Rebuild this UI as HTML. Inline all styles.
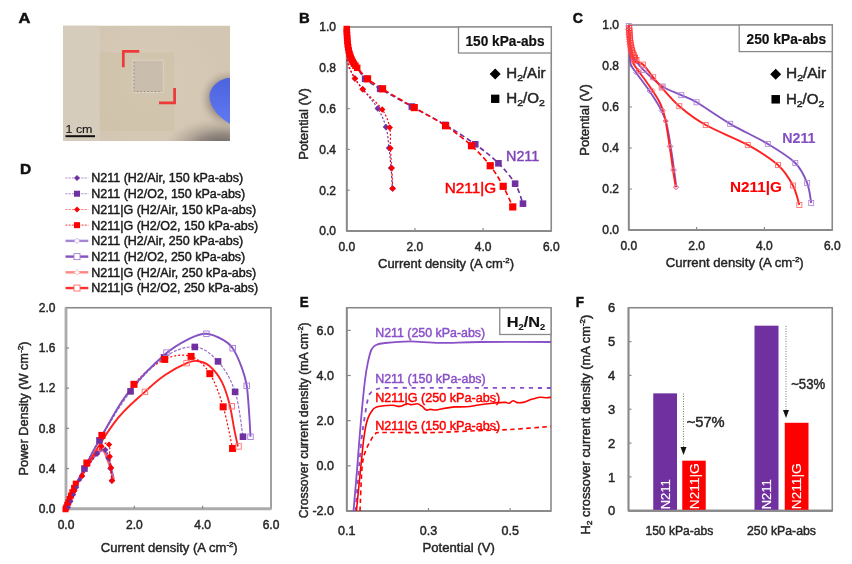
<!DOCTYPE html>
<html><head><meta charset="utf-8"><title>Figure</title>
<style>html,body{margin:0;padding:0;background:#fff;} svg{display:block;}</style>
</head><body>
<svg width="852" height="564" viewBox="0 0 852 564" font-family='"Liberation Sans", Arial, sans-serif'><text x="18.50" y="22.70" font-size="15" fill="#111" stroke="#111" stroke-width="0.5" font-weight="bold" textLength="11.90" lengthAdjust="spacingAndGlyphs">A</text>
<text x="298.90" y="22.50" font-size="15" fill="#111" stroke="#111" stroke-width="0.5" font-weight="bold" textLength="10.70" lengthAdjust="spacingAndGlyphs">B</text>
<text x="572.80" y="22.50" font-size="15" fill="#111" stroke="#111" stroke-width="0.5" font-weight="bold" textLength="10.20" lengthAdjust="spacingAndGlyphs">C</text>
<text x="20.10" y="174.30" font-size="15" fill="#111" stroke="#111" stroke-width="0.5" font-weight="bold" textLength="11.20" lengthAdjust="spacingAndGlyphs">D</text>
<text x="299.80" y="307.10" font-size="15" fill="#111" stroke="#111" stroke-width="0.5" font-weight="bold" textLength="8.90" lengthAdjust="spacingAndGlyphs">E</text>
<text x="575.80" y="307.10" font-size="15" fill="#111" stroke="#111" stroke-width="0.5" font-weight="bold" textLength="8.20" lengthAdjust="spacingAndGlyphs">F</text>
<defs>
<radialGradient id="shB" gradientUnits="userSpaceOnUse" cx="222" cy="147" r="58" gradientTransform="translate(222 147) scale(1 0.5) translate(-222 -147)"><stop offset="0" stop-color="#55504f" stop-opacity="0.95"/><stop offset="0.45" stop-color="#7a716d" stop-opacity="0.7"/><stop offset="1" stop-color="#b0a393" stop-opacity="0"/></radialGradient>
<radialGradient id="shBlue" gradientUnits="userSpaceOnUse" cx="229" cy="99" r="30"><stop offset="0.55" stop-color="#857b76" stop-opacity="0.9"/><stop offset="1" stop-color="#c4b6a4" stop-opacity="0"/></radialGradient>
<radialGradient id="lite" gradientUnits="userSpaceOnUse" cx="150" cy="85" r="70"><stop offset="0" stop-color="#dcd0be" stop-opacity="0.6"/><stop offset="1" stop-color="#ddd0bd" stop-opacity="0"/></radialGradient>
<linearGradient id="blueG" x1="0" y1="0" x2="0" y2="1"><stop offset="0" stop-color="#4d63df"/><stop offset="1" stop-color="#6079f0"/></linearGradient>
<clipPath id="photo"><rect x="63" y="25.5" width="167" height="115.5"/></clipPath>
</defs>
<g clip-path="url(#photo)">
<rect x="63.00" y="25.50" width="167.00" height="115.50" fill="#d3c6b2" />
<rect x="63.00" y="25.50" width="37.00" height="115.50" fill="#d6ccbc" />
<rect x="63.00" y="25.50" width="167.00" height="115.50" fill="url(#lite)" />
<rect x="99.70" y="52.50" width="74.50" height="78.50" fill="#cdbea5" opacity="0.45"/>
<rect x="133.00" y="60.20" width="30.30" height="32.30" fill="#c9bdae" stroke="#ddd2c2" stroke-width="1" />
<path d="M134,62 L134,91.5 L162,91.5" fill="none" stroke="#8f8272" stroke-width="1" stroke-dasharray="1.2 2.4"/>
<ellipse cx="224" cy="100" rx="26" ry="30" fill="url(#shBlue)"/>
<rect x="63" y="100" width="167" height="45" fill="url(#shB)"/>
<path d="M230,78 C221,78 209,86 209.5,97 C210,108 220,118 230,124 Z" fill="url(#blueG)"/>
</g>
<path d="M123.3,67.2 L123.3,51.4 L139.3,51.4" fill="none" stroke="#ec3a3a" stroke-width="2.7"/>
<path d="M174.6,88 L174.6,102.8 L159,102.8" fill="none" stroke="#ec3a3a" stroke-width="2.7"/>
<text x="65.50" y="132.50" font-size="11.5" fill="#111" stroke="#111" stroke-width="0.1" textLength="27.00" lengthAdjust="spacingAndGlyphs">1 cm</text>
<line x1="65.50" y1="136.20" x2="95.00" y2="136.20" stroke="#111" stroke-width="2" />
<rect x="346.75" y="27.00" width="204.50" height="204.00" fill="none" stroke="#8a8a8a" stroke-width="1.6" />
<line x1="346.75" y1="27.00" x2="346.75" y2="231.00" stroke="#8a8a8a" stroke-width="1.8" />
<line x1="346.75" y1="231.00" x2="551.25" y2="231.00" stroke="#8a8a8a" stroke-width="1.8" />
<line x1="346.75" y1="190.20" x2="349.75" y2="190.20" stroke="#8a8a8a" stroke-width="1.2" />
<line x1="346.75" y1="149.40" x2="349.75" y2="149.40" stroke="#8a8a8a" stroke-width="1.2" />
<line x1="346.75" y1="108.60" x2="349.75" y2="108.60" stroke="#8a8a8a" stroke-width="1.2" />
<line x1="346.75" y1="67.80" x2="349.75" y2="67.80" stroke="#8a8a8a" stroke-width="1.2" />
<line x1="414.92" y1="231.00" x2="414.92" y2="228.00" stroke="#8a8a8a" stroke-width="1.2" />
<line x1="483.08" y1="231.00" x2="483.08" y2="228.00" stroke="#8a8a8a" stroke-width="1.2" />
<text x="336.00" y="235.30" font-size="12" fill="#262626" stroke="#262626" stroke-width="0.45" text-anchor="end">0.0</text>
<text x="336.00" y="194.50" font-size="12" fill="#262626" stroke="#262626" stroke-width="0.45" text-anchor="end">0.2</text>
<text x="336.00" y="153.70" font-size="12" fill="#262626" stroke="#262626" stroke-width="0.45" text-anchor="end">0.4</text>
<text x="336.00" y="112.90" font-size="12" fill="#262626" stroke="#262626" stroke-width="0.45" text-anchor="end">0.6</text>
<text x="336.00" y="72.10" font-size="12" fill="#262626" stroke="#262626" stroke-width="0.45" text-anchor="end">0.8</text>
<text x="336.00" y="31.30" font-size="12" fill="#262626" stroke="#262626" stroke-width="0.45" text-anchor="end">1.0</text>
<text x="346.75" y="250.50" font-size="12" fill="#262626" stroke="#262626" stroke-width="0.45" text-anchor="middle">0.0</text>
<text x="414.92" y="250.50" font-size="12" fill="#262626" stroke="#262626" stroke-width="0.45" text-anchor="middle">2.0</text>
<text x="483.08" y="250.50" font-size="12" fill="#262626" stroke="#262626" stroke-width="0.45" text-anchor="middle">4.0</text>
<text x="551.25" y="250.50" font-size="12" fill="#262626" stroke="#262626" stroke-width="0.45" text-anchor="middle">6.0</text>
<text x="307.50" y="124.00" font-size="13" fill="#262626" stroke="#262626" stroke-width="0.45" text-anchor="middle" transform="rotate(-90 307.50 124.00)">Potential (V)</text>
<text x="378.00" y="267.50" font-size="13.5" fill="#262626" stroke="#262626" stroke-width="0.45" textLength="136.00" lengthAdjust="spacingAndGlyphs">Current density (A cm<tspan font-size="8" dy="-5">-2</tspan><tspan dy="5">)</tspan></text>
<path d="M346.75,27.00 C347.42,32.10 349.94,52.16 350.75,57.60 C351.57,63.04 351.30,58.96 351.62,59.64 C351.94,60.32 352.28,61.00 352.66,61.68 C353.04,62.36 353.45,63.04 353.91,63.72 C354.36,64.40 354.85,65.08 355.40,65.76 C355.95,66.44 355.57,65.62 357.19,67.80 C358.82,69.98 361.33,75.31 365.15,78.82 C368.98,82.32 372.37,84.19 380.15,88.81 C387.93,93.44 401.00,100.54 411.85,106.56 C422.70,112.58 434.69,118.63 445.25,124.92 C455.82,131.21 466.38,137.91 475.24,144.30 C484.11,150.69 491.77,156.71 498.42,163.27 C505.07,169.83 511.03,176.94 515.12,183.67 C519.21,190.40 521.65,200.33 522.96,203.66" fill="none" stroke="#7030a0" stroke-width="1.6" stroke-dasharray="5 3" />
<path d="M346.75,27.00 C347.42,32.10 349.94,52.16 350.75,57.60 C351.57,63.04 351.30,58.96 351.62,59.64 C351.94,60.32 352.28,61.00 352.66,61.68 C353.04,62.36 353.45,63.04 353.91,63.72 C354.36,64.40 354.85,65.08 355.40,65.76 C355.95,66.44 355.17,65.62 357.19,67.80 C359.22,69.98 363.32,75.31 367.54,78.82 C371.76,82.32 374.76,84.02 382.54,88.81 C390.32,93.61 403.73,101.43 414.24,107.58 C424.74,113.73 436.05,119.38 445.59,125.74 C455.14,132.09 464.05,139.06 471.50,145.73 C478.94,152.39 484.96,158.95 490.24,165.72 C495.52,172.49 499.44,179.46 503.19,186.32 C506.94,193.19 511.15,203.49 512.74,206.93" fill="none" stroke="#ff0000" stroke-width="1.6" stroke-dasharray="5 3" />
<path d="M346.75,59.64 C347.20,61.00 348.11,64.64 349.48,67.80 C350.84,70.96 352.71,75.04 354.93,78.61 C357.15,82.18 358.96,84.26 362.77,89.22 C366.58,94.18 373.90,102.11 377.77,108.40 C381.63,114.69 384.07,120.36 385.95,126.96 C387.82,133.56 388.16,141.14 389.01,147.97 C389.87,154.81 390.49,161.20 391.06,167.96 C391.63,174.73 392.19,185.13 392.42,188.57" fill="none" stroke="#7030a0" stroke-width="1.2" stroke-dasharray="2 2" />
<path d="M346.75,59.64 C347.20,61.00 348.11,64.64 349.48,67.80 C350.84,70.96 352.71,75.04 354.93,78.61 C357.15,82.18 358.22,84.05 362.77,89.22 C367.31,94.39 377.71,103.23 382.20,109.62 C386.68,116.01 388.33,121.15 389.69,127.57 C391.06,134.00 390.04,141.44 390.38,148.18 C390.72,154.91 391.34,161.23 391.74,167.96 C392.14,174.70 392.59,185.13 392.76,188.57" fill="none" stroke="#ff0000" stroke-width="1.2" stroke-dasharray="2 2" />
<path d="M354.93,75.36 L358.18,78.61 L354.93,81.86 L351.68,78.61 Z" fill="#7030a0"/>
<path d="M362.77,85.97 L366.02,89.22 L362.77,92.47 L359.52,89.22 Z" fill="#7030a0"/>
<path d="M377.77,105.15 L381.02,108.40 L377.77,111.65 L374.52,108.40 Z" fill="#7030a0"/>
<path d="M385.95,123.71 L389.20,126.96 L385.95,130.21 L382.70,126.96 Z" fill="#7030a0"/>
<path d="M389.01,144.72 L392.26,147.97 L389.01,151.22 L385.76,147.97 Z" fill="#7030a0"/>
<path d="M391.06,164.71 L394.31,167.96 L391.06,171.21 L387.81,167.96 Z" fill="#7030a0"/>
<path d="M392.42,185.32 L395.67,188.57 L392.42,191.82 L389.17,188.57 Z" fill="#7030a0"/>
<path d="M354.93,75.36 L358.18,78.61 L354.93,81.86 L351.68,78.61 Z" fill="#ff0000"/>
<path d="M362.77,85.97 L366.02,89.22 L362.77,92.47 L359.52,89.22 Z" fill="#ff0000"/>
<path d="M382.20,106.37 L385.45,109.62 L382.20,112.87 L378.95,109.62 Z" fill="#ff0000"/>
<path d="M389.69,124.32 L392.94,127.57 L389.69,130.82 L386.44,127.57 Z" fill="#ff0000"/>
<path d="M390.38,144.93 L393.63,148.18 L390.38,151.43 L387.13,148.18 Z" fill="#ff0000"/>
<path d="M391.74,164.71 L394.99,167.96 L391.74,171.21 L388.49,167.96 Z" fill="#ff0000"/>
<path d="M392.76,185.32 L396.01,188.57 L392.76,191.82 L389.51,188.57 Z" fill="#ff0000"/>
<rect x="361.85" y="75.52" width="6.60" height="6.60" fill="#7030a0" />
<rect x="376.85" y="85.51" width="6.60" height="6.60" fill="#7030a0" />
<rect x="408.55" y="103.26" width="6.60" height="6.60" fill="#7030a0" />
<rect x="441.95" y="121.62" width="6.60" height="6.60" fill="#7030a0" />
<rect x="471.94" y="141.00" width="6.60" height="6.60" fill="#7030a0" />
<rect x="495.12" y="159.97" width="6.60" height="6.60" fill="#7030a0" />
<rect x="511.82" y="180.37" width="6.60" height="6.60" fill="#7030a0" />
<rect x="519.66" y="200.36" width="6.60" height="6.60" fill="#7030a0" />
<rect x="363.94" y="75.22" width="7.20" height="7.20" fill="#ff0000" />
<rect x="378.94" y="85.21" width="7.20" height="7.20" fill="#ff0000" />
<rect x="410.63" y="103.98" width="7.20" height="7.20" fill="#ff0000" />
<rect x="441.99" y="122.14" width="7.20" height="7.20" fill="#ff0000" />
<rect x="467.89" y="142.13" width="7.20" height="7.20" fill="#ff0000" />
<rect x="486.64" y="162.12" width="7.20" height="7.20" fill="#ff0000" />
<rect x="499.59" y="182.72" width="7.20" height="7.20" fill="#ff0000" />
<rect x="509.14" y="203.33" width="7.20" height="7.20" fill="#ff0000" />
<rect x="343.50" y="25.79" width="6.50" height="6.50" fill="#ff0000" />
<rect x="343.61" y="28.85" width="6.50" height="6.50" fill="#ff0000" />
<rect x="343.75" y="31.91" width="6.50" height="6.50" fill="#ff0000" />
<rect x="343.93" y="34.97" width="6.50" height="6.50" fill="#ff0000" />
<rect x="344.17" y="38.03" width="6.50" height="6.50" fill="#ff0000" />
<rect x="344.49" y="41.09" width="6.50" height="6.50" fill="#ff0000" />
<rect x="344.91" y="44.15" width="6.50" height="6.50" fill="#ff0000" />
<rect x="345.46" y="47.21" width="6.50" height="6.50" fill="#ff0000" />
<rect x="346.18" y="50.27" width="6.50" height="6.50" fill="#ff0000" />
<rect x="346.78" y="52.31" width="6.50" height="6.50" fill="#ff0000" />
<rect x="347.50" y="54.35" width="6.50" height="6.50" fill="#ff0000" />
<rect x="348.37" y="56.39" width="6.50" height="6.50" fill="#ff0000" />
<rect x="349.41" y="58.43" width="6.50" height="6.50" fill="#ff0000" />
<rect x="350.66" y="60.47" width="6.50" height="6.50" fill="#ff0000" />
<rect x="352.15" y="62.51" width="6.50" height="6.50" fill="#ff0000" />
<rect x="353.94" y="64.55" width="6.50" height="6.50" fill="#ff0000" />
<rect x="458.50" y="27.00" width="92.75" height="26.00" fill="#fff" stroke="#8a8a8a" stroke-width="1.3" />
<text x="465.50" y="46.10" font-size="15.3" fill="#111" stroke="#111" stroke-width="0.2" font-weight="bold" textLength="79.00" lengthAdjust="spacingAndGlyphs">150 kPa-abs</text>
<path d="M495.20,68.50 L500.70,74.00 L495.20,79.50 L489.70,74.00 Z" fill="#000"/>
<rect x="491.05" y="94.65" width="8.30" height="8.30" fill="#000" />
<text x="506.30" y="78.10" font-size="13.8" fill="#262626" stroke="#262626" stroke-width="0.45" textLength="39.20" lengthAdjust="spacingAndGlyphs">H<tspan font-size="9.5" dy="3">2</tspan><tspan dy="-3">/Air</tspan></text>
<text x="506.30" y="103.20" font-size="13.8" fill="#262626" stroke="#262626" stroke-width="0.45" textLength="38.50" lengthAdjust="spacingAndGlyphs">H<tspan font-size="9.5" dy="3">2</tspan><tspan dy="-3">/O</tspan><tspan font-size="9.5" dy="3">2</tspan></text>
<text x="506.00" y="161.40" font-size="14.2" fill="#7f45b8" stroke="#7f45b8" stroke-width="0.45" textLength="33.30" lengthAdjust="spacingAndGlyphs">N211</text>
<text x="444.70" y="192.60" font-size="14.2" fill="#ff0000" stroke="#ff0000" stroke-width="0.45" textLength="51.40" lengthAdjust="spacingAndGlyphs">N211|G</text>
<rect x="628.75" y="25.00" width="203.50" height="205.00" fill="none" stroke="#8a8a8a" stroke-width="1.6" />
<line x1="628.75" y1="25.00" x2="628.75" y2="230.00" stroke="#8a8a8a" stroke-width="1.8" />
<line x1="628.75" y1="230.00" x2="832.25" y2="230.00" stroke="#8a8a8a" stroke-width="1.8" />
<line x1="628.75" y1="189.00" x2="631.75" y2="189.00" stroke="#8a8a8a" stroke-width="1.2" />
<line x1="628.75" y1="148.00" x2="631.75" y2="148.00" stroke="#8a8a8a" stroke-width="1.2" />
<line x1="628.75" y1="107.00" x2="631.75" y2="107.00" stroke="#8a8a8a" stroke-width="1.2" />
<line x1="628.75" y1="66.00" x2="631.75" y2="66.00" stroke="#8a8a8a" stroke-width="1.2" />
<line x1="696.58" y1="230.00" x2="696.58" y2="227.00" stroke="#8a8a8a" stroke-width="1.2" />
<line x1="764.42" y1="230.00" x2="764.42" y2="227.00" stroke="#8a8a8a" stroke-width="1.2" />
<text x="619.00" y="234.30" font-size="12" fill="#262626" stroke="#262626" stroke-width="0.45" text-anchor="end">0.0</text>
<text x="619.00" y="193.30" font-size="12" fill="#262626" stroke="#262626" stroke-width="0.45" text-anchor="end">0.2</text>
<text x="619.00" y="152.30" font-size="12" fill="#262626" stroke="#262626" stroke-width="0.45" text-anchor="end">0.4</text>
<text x="619.00" y="111.30" font-size="12" fill="#262626" stroke="#262626" stroke-width="0.45" text-anchor="end">0.6</text>
<text x="619.00" y="70.30" font-size="12" fill="#262626" stroke="#262626" stroke-width="0.45" text-anchor="end">0.8</text>
<text x="619.00" y="29.30" font-size="12" fill="#262626" stroke="#262626" stroke-width="0.45" text-anchor="end">1.0</text>
<text x="628.75" y="250.00" font-size="12" fill="#262626" stroke="#262626" stroke-width="0.45" text-anchor="middle">0.0</text>
<text x="696.58" y="250.00" font-size="12" fill="#262626" stroke="#262626" stroke-width="0.45" text-anchor="middle">2.0</text>
<text x="764.42" y="250.00" font-size="12" fill="#262626" stroke="#262626" stroke-width="0.45" text-anchor="middle">4.0</text>
<text x="832.25" y="250.00" font-size="12" fill="#262626" stroke="#262626" stroke-width="0.45" text-anchor="middle">6.0</text>
<text x="588.50" y="120.00" font-size="13" fill="#262626" stroke="#262626" stroke-width="0.45" text-anchor="middle" transform="rotate(-90 588.50 120.00)">Potential (V)</text>
<text x="665.70" y="267.00" font-size="13.5" fill="#262626" stroke="#262626" stroke-width="0.45" textLength="138.00" lengthAdjust="spacingAndGlyphs">Current density (A cm<tspan font-size="8" dy="-5">-2</tspan><tspan dy="5">)</tspan></text>
<path d="M629.30,30.00 C629.38,33.33 629.58,44.33 629.80,50.00 C630.02,55.67 629.57,60.25 630.60,64.00 C631.63,67.75 633.93,69.50 636.00,72.50 C638.07,75.50 640.75,78.92 643.00,82.00 C645.25,85.08 647.33,87.83 649.50,91.00 C651.67,94.17 654.00,97.75 656.00,101.00 C658.00,104.25 659.87,107.17 661.50,110.50 C663.13,113.83 664.62,117.08 665.80,121.00 C666.98,124.92 667.80,129.77 668.60,134.00 C669.40,138.23 669.97,142.40 670.60,146.40 C671.23,150.40 671.83,154.07 672.40,158.00 C672.97,161.93 673.50,166.33 674.00,170.00 C674.50,173.67 675.02,177.13 675.40,180.00 C675.78,182.87 676.15,186.00 676.30,187.20" fill="none" stroke="#8552c2" stroke-width="1.9" />
<path d="M629.30,30.00 C629.42,33.33 629.47,44.67 630.00,50.00 C630.53,55.33 631.08,58.50 632.50,62.00 C633.92,65.50 636.33,67.92 638.50,71.00 C640.67,74.08 643.17,77.25 645.50,80.50 C647.83,83.75 650.25,87.08 652.50,90.50 C654.75,93.92 657.25,97.67 659.00,101.00 C660.75,104.33 661.90,107.17 663.00,110.50 C664.10,113.83 664.80,117.08 665.60,121.00 C666.40,124.92 667.13,129.77 667.80,134.00 C668.47,138.23 669.00,142.40 669.60,146.40 C670.20,150.40 670.83,154.07 671.40,158.00 C671.97,161.93 672.47,166.33 673.00,170.00 C673.53,173.67 674.13,177.13 674.60,180.00 C675.07,182.87 675.60,186.00 675.80,187.20" fill="none" stroke="#ff2020" stroke-width="1.9" />
<path d="M628.75,25.00 C628.86,26.71 629.15,31.83 629.43,35.25 C629.71,38.67 629.99,42.43 630.45,45.50 C630.90,48.57 631.55,51.62 632.14,53.70 C632.74,55.78 632.09,55.27 634.01,58.00 C635.93,60.74 638.90,65.35 643.67,70.10 C648.45,74.85 656.39,82.33 662.67,86.50 C668.94,90.67 675.67,92.48 681.32,95.11 C686.97,97.74 688.44,97.50 696.58,102.28 C704.72,107.07 718.29,116.87 730.16,123.81 C742.03,130.75 756.95,137.37 767.81,143.90 C778.66,150.43 788.72,156.44 795.28,162.97 C801.84,169.49 804.49,176.39 807.15,183.06 C809.81,189.72 810.54,199.63 811.22,202.94" fill="none" stroke="#8552c2" stroke-width="1.9" />
<path d="M628.75,25.00 C628.86,26.71 629.15,31.83 629.43,35.25 C629.71,38.67 629.99,42.43 630.45,45.50 C630.90,48.57 631.48,51.24 632.14,53.70 C632.80,56.16 632.61,58.45 634.41,60.26 C636.22,62.07 639.87,61.73 643.00,64.56 C646.12,67.40 650.06,73.45 653.17,77.28 C656.28,81.10 657.30,82.71 661.65,87.53 C666.00,92.34 671.94,99.93 679.29,106.18 C686.63,112.43 694.32,118.58 705.74,125.04 C717.16,131.50 735.76,138.26 747.80,144.93 C759.84,151.59 770.47,158.25 777.98,165.01 C785.50,171.78 789.35,178.85 792.91,185.51 C796.47,192.18 798.28,201.74 799.35,204.99" fill="none" stroke="#ff2020" stroke-width="1.9" />
<rect x="631.51" y="55.50" width="5.00" height="5.00" fill="none" stroke="#b08ad8" stroke-width="0.9" />
<rect x="641.17" y="67.60" width="5.00" height="5.00" fill="none" stroke="#b08ad8" stroke-width="0.9" />
<rect x="660.17" y="84.00" width="5.00" height="5.00" fill="none" stroke="#b08ad8" stroke-width="0.9" />
<rect x="678.82" y="92.61" width="5.00" height="5.00" fill="none" stroke="#b08ad8" stroke-width="0.9" />
<rect x="694.08" y="99.78" width="5.00" height="5.00" fill="none" stroke="#b08ad8" stroke-width="0.9" />
<rect x="727.66" y="121.31" width="5.00" height="5.00" fill="none" stroke="#b08ad8" stroke-width="0.9" />
<rect x="765.31" y="141.40" width="5.00" height="5.00" fill="none" stroke="#b08ad8" stroke-width="0.9" />
<rect x="792.78" y="160.47" width="5.00" height="5.00" fill="none" stroke="#b08ad8" stroke-width="0.9" />
<rect x="804.65" y="180.56" width="5.00" height="5.00" fill="none" stroke="#b08ad8" stroke-width="0.9" />
<rect x="808.72" y="200.44" width="5.00" height="5.00" fill="none" stroke="#b08ad8" stroke-width="0.9" />
<rect x="631.91" y="57.76" width="5.00" height="5.00" fill="none" stroke="#ff7070" stroke-width="0.9" />
<rect x="640.50" y="62.06" width="5.00" height="5.00" fill="none" stroke="#ff7070" stroke-width="0.9" />
<rect x="650.67" y="74.78" width="5.00" height="5.00" fill="none" stroke="#ff7070" stroke-width="0.9" />
<rect x="659.15" y="85.03" width="5.00" height="5.00" fill="none" stroke="#ff7070" stroke-width="0.9" />
<rect x="676.79" y="103.68" width="5.00" height="5.00" fill="none" stroke="#ff7070" stroke-width="0.9" />
<rect x="703.24" y="122.54" width="5.00" height="5.00" fill="none" stroke="#ff7070" stroke-width="0.9" />
<rect x="745.30" y="142.43" width="5.00" height="5.00" fill="none" stroke="#ff7070" stroke-width="0.9" />
<rect x="775.48" y="162.51" width="5.00" height="5.00" fill="none" stroke="#ff7070" stroke-width="0.9" />
<rect x="790.41" y="183.01" width="5.00" height="5.00" fill="none" stroke="#ff7070" stroke-width="0.9" />
<rect x="796.85" y="202.49" width="5.00" height="5.00" fill="none" stroke="#ff7070" stroke-width="0.9" />
<path d="M636.00,70.00 L638.50,72.50 L636.00,75.00 L633.50,72.50 Z" fill="none" stroke="#b08ad8" stroke-width="0.9"/>
<path d="M649.50,88.50 L652.00,91.00 L649.50,93.50 L647.00,91.00 Z" fill="none" stroke="#b08ad8" stroke-width="0.9"/>
<path d="M661.50,108.00 L664.00,110.50 L661.50,113.00 L659.00,110.50 Z" fill="none" stroke="#b08ad8" stroke-width="0.9"/>
<path d="M665.80,118.50 L668.30,121.00 L665.80,123.50 L663.30,121.00 Z" fill="none" stroke="#b08ad8" stroke-width="0.9"/>
<path d="M670.60,143.90 L673.10,146.40 L670.60,148.90 L668.10,146.40 Z" fill="none" stroke="#b08ad8" stroke-width="0.9"/>
<path d="M674.00,167.50 L676.50,170.00 L674.00,172.50 L671.50,170.00 Z" fill="none" stroke="#b08ad8" stroke-width="0.9"/>
<path d="M676.30,184.70 L678.80,187.20 L676.30,189.70 L673.80,187.20 Z" fill="none" stroke="#b08ad8" stroke-width="0.9"/>
<path d="M638.50,68.50 L641.00,71.00 L638.50,73.50 L636.00,71.00 Z" fill="none" stroke="#ff7070" stroke-width="0.9"/>
<path d="M652.50,88.00 L655.00,90.50 L652.50,93.00 L650.00,90.50 Z" fill="none" stroke="#ff7070" stroke-width="0.9"/>
<path d="M663.00,108.00 L665.50,110.50 L663.00,113.00 L660.50,110.50 Z" fill="none" stroke="#ff7070" stroke-width="0.9"/>
<path d="M665.60,118.50 L668.10,121.00 L665.60,123.50 L663.10,121.00 Z" fill="none" stroke="#ff7070" stroke-width="0.9"/>
<path d="M669.60,143.90 L672.10,146.40 L669.60,148.90 L667.10,146.40 Z" fill="none" stroke="#ff7070" stroke-width="0.9"/>
<path d="M673.00,167.50 L675.50,170.00 L673.00,172.50 L670.50,170.00 Z" fill="none" stroke="#ff7070" stroke-width="0.9"/>
<path d="M675.80,184.70 L678.30,187.20 L675.80,189.70 L673.30,187.20 Z" fill="none" stroke="#ff7070" stroke-width="0.9"/>
<rect x="626.25" y="23.50" width="5.00" height="5.00" fill="none" stroke="#b08ad8" stroke-width="0.9" />
<rect x="626.79" y="25.57" width="5.00" height="5.00" fill="none" stroke="#ff3c3c" stroke-width="0.9" />
<path d="M628.49,26.82 L631.24,29.57 L628.49,32.32 L625.74,29.57 Z" fill="none" stroke="#ff4848" stroke-width="0.8"/>
<rect x="626.90" y="28.03" width="5.00" height="5.00" fill="none" stroke="#ff3c3c" stroke-width="0.9" />
<path d="M628.60,29.28 L631.35,32.03 L628.60,34.78 L625.85,32.03 Z" fill="none" stroke="#ff4848" stroke-width="0.8"/>
<rect x="627.03" y="30.50" width="5.00" height="5.00" fill="none" stroke="#ff3c3c" stroke-width="0.9" />
<path d="M628.73,31.75 L631.48,34.50 L628.73,37.25 L625.98,34.50 Z" fill="none" stroke="#ff4848" stroke-width="0.8"/>
<rect x="627.20" y="32.96" width="5.00" height="5.00" fill="none" stroke="#ff3c3c" stroke-width="0.9" />
<path d="M628.90,34.21 L631.65,36.96 L628.90,39.71 L626.15,36.96 Z" fill="none" stroke="#ff4848" stroke-width="0.8"/>
<rect x="627.41" y="35.42" width="5.00" height="5.00" fill="none" stroke="#ff3c3c" stroke-width="0.9" />
<path d="M629.11,36.67 L631.86,39.42 L629.11,42.17 L626.36,39.42 Z" fill="none" stroke="#ff4848" stroke-width="0.8"/>
<rect x="627.67" y="37.88" width="5.00" height="5.00" fill="none" stroke="#ff3c3c" stroke-width="0.9" />
<path d="M629.37,39.12 L632.12,41.88 L629.37,44.62 L626.62,41.88 Z" fill="none" stroke="#ff4848" stroke-width="0.8"/>
<rect x="627.99" y="40.33" width="5.00" height="5.00" fill="none" stroke="#ff3c3c" stroke-width="0.9" />
<path d="M629.69,41.58 L632.44,44.33 L629.69,47.08 L626.94,44.33 Z" fill="none" stroke="#ff4848" stroke-width="0.8"/>
<rect x="628.40" y="42.79" width="5.00" height="5.00" fill="none" stroke="#ff3c3c" stroke-width="0.9" />
<path d="M630.10,44.04 L632.85,46.79 L630.10,49.54 L627.35,46.79 Z" fill="none" stroke="#ff4848" stroke-width="0.8"/>
<rect x="628.90" y="45.25" width="5.00" height="5.00" fill="none" stroke="#ff3c3c" stroke-width="0.9" />
<path d="M630.60,46.50 L633.35,49.25 L630.60,52.00 L627.85,49.25 Z" fill="none" stroke="#ff4848" stroke-width="0.8"/>
<rect x="629.52" y="47.72" width="5.00" height="5.00" fill="none" stroke="#ff3c3c" stroke-width="0.9" />
<path d="M631.22,48.97 L633.97,51.72 L631.22,54.47 L628.47,51.72 Z" fill="none" stroke="#ff4848" stroke-width="0.8"/>
<rect x="630.29" y="50.18" width="5.00" height="5.00" fill="none" stroke="#ff3c3c" stroke-width="0.9" />
<path d="M631.99,51.43 L634.74,54.18 L631.99,56.93 L629.24,54.18 Z" fill="none" stroke="#ff4848" stroke-width="0.8"/>
<rect x="631.26" y="52.63" width="5.00" height="5.00" fill="none" stroke="#ff3c3c" stroke-width="0.9" />
<path d="M632.96,53.88 L635.71,56.63 L632.96,59.38 L630.21,56.63 Z" fill="none" stroke="#ff4848" stroke-width="0.8"/>
<rect x="632.45" y="55.09" width="5.00" height="5.00" fill="none" stroke="#ff3c3c" stroke-width="0.9" />
<path d="M634.15,56.34 L636.90,59.09 L634.15,61.84 L631.40,59.09 Z" fill="none" stroke="#ff4848" stroke-width="0.8"/>
<rect x="633.94" y="57.56" width="5.00" height="5.00" fill="none" stroke="#ff3c3c" stroke-width="0.9" />
<path d="M635.64,58.81 L638.39,61.56 L635.64,64.31 L632.89,61.56 Z" fill="none" stroke="#ff4848" stroke-width="0.8"/>
<rect x="739.20" y="25.00" width="93.05" height="26.60" fill="#fff" stroke="#8a8a8a" stroke-width="1.3" />
<text x="746.50" y="44.30" font-size="15.3" fill="#111" stroke="#111" stroke-width="0.2" font-weight="bold" textLength="79.70" lengthAdjust="spacingAndGlyphs">250 kPa-abs</text>
<path d="M775.70,68.70 L781.20,74.20 L775.70,79.70 L770.20,74.20 Z" fill="#000"/>
<rect x="771.45" y="95.05" width="8.50" height="8.50" fill="#000" />
<text x="786.00" y="78.20" font-size="13.8" fill="#262626" stroke="#262626" stroke-width="0.45" textLength="40.20" lengthAdjust="spacingAndGlyphs">H<tspan font-size="9.5" dy="3">2</tspan><tspan dy="-3">/Air</tspan></text>
<text x="786.00" y="103.60" font-size="13.8" fill="#262626" stroke="#262626" stroke-width="0.45" textLength="38.30" lengthAdjust="spacingAndGlyphs">H<tspan font-size="9.5" dy="3">2</tspan><tspan dy="-3">/O</tspan><tspan font-size="9.5" dy="3">2</tspan></text>
<text x="782.20" y="143.00" font-size="14.4" fill="#8550c0" stroke="#8550c0" stroke-width="0.1" font-weight="bold" textLength="33.30" lengthAdjust="spacingAndGlyphs">N211</text>
<text x="730.00" y="191.50" font-size="14.4" fill="#ff0000" stroke="#ff0000" stroke-width="0.1" font-weight="bold" textLength="51.80" lengthAdjust="spacingAndGlyphs">N211|G</text>
<line x1="65.50" y1="178.00" x2="88.30" y2="178.00" stroke="#a585d5" stroke-width="1.1" stroke-dasharray="2 1.2"/>
<path d="M77.00,175.00 L80.00,178.00 L77.00,181.00 L74.00,178.00 Z" fill="#7030a0"/>
<text x="91.25" y="182.40" font-size="12.5" fill="#1a1a1a" stroke="#1a1a1a" stroke-width="0.45">N211 (H2/Air, 150 kPa-abs)</text>
<line x1="65.50" y1="193.72" x2="88.30" y2="193.72" stroke="#a585d5" stroke-width="1.1" stroke-dasharray="2 1.2"/>
<rect x="74.00" y="190.72" width="6.00" height="6.00" fill="#7030a0" />
<text x="91.25" y="198.12" font-size="12.5" fill="#1a1a1a" stroke="#1a1a1a" stroke-width="0.45">N211 (H2/O2, 150 kPa-abs)</text>
<line x1="65.50" y1="209.44" x2="88.30" y2="209.44" stroke="#ff7070" stroke-width="1.1" stroke-dasharray="2 1.2"/>
<path d="M77.00,206.44 L80.00,209.44 L77.00,212.44 L74.00,209.44 Z" fill="#ff0000"/>
<text x="91.25" y="213.84" font-size="12.5" fill="#1a1a1a" stroke="#1a1a1a" stroke-width="0.45">N211|G (H2/Air, 150 kPa-abs)</text>
<line x1="65.50" y1="225.16" x2="88.30" y2="225.16" stroke="#ff6060" stroke-width="1.1" stroke-dasharray="2 1.2"/>
<rect x="74.00" y="222.16" width="6.00" height="6.00" fill="#ff0000" />
<text x="91.25" y="229.56" font-size="12.5" fill="#1a1a1a" stroke="#1a1a1a" stroke-width="0.45">N211|G (H2/O2, 150 kPa-abs)</text>
<line x1="65.50" y1="240.88" x2="88.30" y2="240.88" stroke="#a585d5" stroke-width="2.4" />
<path d="M77.00,238.13 L79.75,240.88 L77.00,243.63 L74.25,240.88 Z" fill="#fff" stroke="#c0a8e4" stroke-width="0.8"/>
<text x="91.25" y="245.28" font-size="12.5" fill="#1a1a1a" stroke="#1a1a1a" stroke-width="0.45">N211 (H2/Air, 250 kPa-abs)</text>
<line x1="65.50" y1="256.60" x2="88.30" y2="256.60" stroke="#8552c2" stroke-width="2.4" />
<rect x="74.00" y="253.60" width="6.00" height="6.00" fill="#fff" stroke="#9f7fd4" stroke-width="0.9" />
<text x="91.25" y="261.00" font-size="12.5" fill="#1a1a1a" stroke="#1a1a1a" stroke-width="0.45">N211 (H2/O2, 250 kPa-abs)</text>
<line x1="65.50" y1="272.32" x2="88.30" y2="272.32" stroke="#ff8585" stroke-width="2.4" />
<path d="M77.00,269.57 L79.75,272.32 L77.00,275.07 L74.25,272.32 Z" fill="#fff" stroke="#ffb0b0" stroke-width="0.8"/>
<text x="91.25" y="276.72" font-size="12.5" fill="#1a1a1a" stroke="#1a1a1a" stroke-width="0.45">N211|G (H2/Air, 250 kPa-abs)</text>
<line x1="65.50" y1="288.04" x2="88.30" y2="288.04" stroke="#ff3030" stroke-width="2.4" />
<rect x="74.00" y="285.04" width="6.00" height="6.00" fill="#fff" stroke="#ff6a6a" stroke-width="0.9" />
<text x="91.25" y="292.44" font-size="12.5" fill="#1a1a1a" stroke="#1a1a1a" stroke-width="0.45">N211|G (H2/O2, 250 kPa-abs)</text>
<rect x="66.00" y="307.75" width="205.00" height="201.00" fill="none" stroke="#8a8a8a" stroke-width="1.6" />
<line x1="66.00" y1="307.75" x2="66.00" y2="508.75" stroke="#ababab" stroke-width="2.8" />
<line x1="66.00" y1="508.75" x2="271.00" y2="508.75" stroke="#ababab" stroke-width="2.8" />
<line x1="66.00" y1="468.55" x2="69.00" y2="468.55" stroke="#8a8a8a" stroke-width="1.2" />
<line x1="66.00" y1="428.35" x2="69.00" y2="428.35" stroke="#8a8a8a" stroke-width="1.2" />
<line x1="66.00" y1="388.15" x2="69.00" y2="388.15" stroke="#8a8a8a" stroke-width="1.2" />
<line x1="66.00" y1="347.95" x2="69.00" y2="347.95" stroke="#8a8a8a" stroke-width="1.2" />
<line x1="134.33" y1="508.75" x2="134.33" y2="505.75" stroke="#8a8a8a" stroke-width="1.2" />
<line x1="202.67" y1="508.75" x2="202.67" y2="505.75" stroke="#8a8a8a" stroke-width="1.2" />
<text x="55.50" y="513.05" font-size="12" fill="#262626" stroke="#262626" stroke-width="0.45" text-anchor="end">0.0</text>
<text x="55.50" y="472.85" font-size="12" fill="#262626" stroke="#262626" stroke-width="0.45" text-anchor="end">0.4</text>
<text x="55.50" y="432.65" font-size="12" fill="#262626" stroke="#262626" stroke-width="0.45" text-anchor="end">0.8</text>
<text x="55.50" y="392.45" font-size="12" fill="#262626" stroke="#262626" stroke-width="0.45" text-anchor="end">1.2</text>
<text x="55.50" y="352.25" font-size="12" fill="#262626" stroke="#262626" stroke-width="0.45" text-anchor="end">1.6</text>
<text x="55.50" y="312.05" font-size="12" fill="#262626" stroke="#262626" stroke-width="0.45" text-anchor="end">2.0</text>
<text x="66.00" y="529.00" font-size="12" fill="#262626" stroke="#262626" stroke-width="0.45" text-anchor="middle">0.0</text>
<text x="134.33" y="529.00" font-size="12" fill="#262626" stroke="#262626" stroke-width="0.45" text-anchor="middle">2.0</text>
<text x="202.67" y="529.00" font-size="12" fill="#262626" stroke="#262626" stroke-width="0.45" text-anchor="middle">4.0</text>
<text x="271.00" y="529.00" font-size="12" fill="#262626" stroke="#262626" stroke-width="0.45" text-anchor="middle">6.0</text>
<text x="27.60" y="408.40" font-size="12.2" fill="#262626" stroke="#262626" stroke-width="0.45" text-anchor="middle" textLength="134.00" lengthAdjust="spacingAndGlyphs" transform="rotate(-90 27.60 408.40)">Power Density (W cm<tspan font-size="8" dy="-5">-2</tspan><tspan dy="5">)</tspan></text>
<text x="100.70" y="551.50" font-size="13.5" fill="#262626" stroke="#262626" stroke-width="0.45" textLength="137.00" lengthAdjust="spacingAndGlyphs">Current density (A cm<tspan font-size="8" dy="-5">-2</tspan><tspan dy="5">)</tspan></text>
<path d="M66.00,508.75 C66.31,508.01 66.65,507.06 67.86,504.31 C69.08,501.56 71.22,496.59 73.30,492.24 C75.39,487.90 78.09,482.46 80.36,478.27 C82.62,474.07 84.72,470.45 86.90,467.06 C89.09,463.67 91.44,460.42 93.45,457.94 C95.47,455.46 97.35,453.44 98.99,452.18 C100.64,450.92 102.13,450.16 103.32,450.38 C104.52,450.59 105.34,452.15 106.14,453.45 C106.95,454.75 107.52,456.53 108.16,458.18 C108.80,459.82 109.40,461.43 109.97,463.32 C110.54,465.21 111.08,467.55 111.58,469.51 C112.09,471.46 112.61,473.40 112.99,475.04 C113.38,476.67 113.75,478.62 113.90,479.33" fill="none" stroke="#9966cc" stroke-width="1.8" />
<path d="M66.00,508.75 C66.63,507.23 68.14,503.38 69.78,499.64 C71.41,495.91 73.64,490.86 75.82,486.34 C78.00,481.83 80.52,476.80 82.87,472.55 C85.22,468.31 87.66,464.23 89.93,460.86 C92.19,457.49 94.71,454.22 96.47,452.35 C98.24,450.47 99.39,449.87 100.50,449.59 C101.61,449.31 102.32,449.86 103.12,450.69 C103.93,451.52 104.67,453.11 105.34,454.56 C106.01,456.01 106.55,457.75 107.15,459.39 C107.76,461.02 108.39,462.53 108.96,464.36 C109.54,466.19 110.04,468.50 110.58,470.37 C111.11,472.25 111.72,474.07 112.19,475.61 C112.66,477.16 113.20,478.97 113.40,479.64" fill="none" stroke="#ff6666" stroke-width="1.8" />
<path d="M66.00,508.75 C67.37,505.75 71.52,496.20 74.20,490.73 C76.88,485.26 78.24,482.08 82.06,475.92 C85.87,469.76 93.22,458.14 97.09,453.79 C100.96,449.43 103.41,449.10 105.29,449.81 C107.17,450.51 107.51,454.93 108.37,458.03 C109.22,461.13 109.85,464.59 110.42,468.38 C110.99,472.16 111.56,478.68 111.78,480.74" fill="none" stroke="#7030a0" stroke-width="1.2" stroke-dasharray="2 2" />
<path d="M66.00,508.75 C67.37,505.75 71.52,496.20 74.20,490.73 C76.88,485.26 77.50,483.28 82.06,475.92 C86.61,468.56 97.03,451.79 101.53,446.56 C106.03,441.33 107.68,442.89 109.05,444.55 C110.42,446.21 109.39,452.65 109.73,456.52 C110.08,460.39 110.70,463.76 111.10,467.76 C111.50,471.76 111.95,478.40 112.12,480.53" fill="none" stroke="#ff0000" stroke-width="1.2" stroke-dasharray="2 2" />
<path d="M66.00,508.75 C69.08,502.05 78.87,479.94 84.45,468.55 C90.03,457.16 91.80,453.27 99.48,440.41 C107.17,427.55 119.81,405.20 130.57,391.37 C141.34,377.53 153.35,364.80 164.06,357.40 C174.76,349.99 185.81,346.27 194.81,346.94 C203.81,347.62 211.32,353.93 218.04,361.42 C224.76,368.90 230.97,379.32 235.12,391.87 C239.28,404.41 241.67,429.22 242.98,436.69" fill="none" stroke="#9a70c8" stroke-width="1.2" stroke-dasharray="3 1.5" />
<path d="M66.00,508.75 C69.47,501.13 80.86,475.25 86.84,463.02 C92.82,450.79 94.02,448.50 101.88,435.38 C109.73,422.27 123.51,396.99 133.99,384.33 C144.47,371.67 155.23,364.06 164.74,359.41 C174.25,354.75 183.53,354.01 191.05,356.39 C198.57,358.77 204.49,365.27 209.84,373.68 C215.19,382.09 219.38,394.38 223.17,406.84 C226.95,419.31 231.00,441.52 232.56,448.45" fill="none" stroke="#ff0000" stroke-width="1.2" stroke-dasharray="2 2" />
<path d="M66.00,508.75 C67.71,504.56 68.79,498.42 76.25,483.62 C83.71,468.83 101.76,435.59 110.76,420.01 C119.76,404.43 121.24,401.06 130.23,390.16 C139.23,379.26 154.95,363.13 164.74,354.58 C174.54,346.04 182.05,342.37 189.00,338.90 C195.95,335.44 200.73,333.61 206.43,333.78 C212.12,333.95 218.78,337.50 223.17,339.91 C227.55,342.32 229.60,343.56 232.73,348.25 C235.87,352.94 239.62,361.80 241.96,368.05 C244.29,374.30 245.55,378.20 246.74,385.74 C247.94,393.28 248.51,404.77 249.13,413.27 C249.76,421.78 250.27,432.87 250.50,436.79" fill="none" stroke="#8552c2" stroke-width="1.9" />
<path d="M66.00,508.75 C67.71,504.73 68.28,498.87 76.25,484.63 C84.22,470.39 102.39,438.79 113.83,423.32 C125.28,407.86 136.38,399.91 144.93,391.87 C153.47,383.83 158.14,379.88 165.08,375.08 C172.03,370.29 181.20,365.47 186.61,363.13 C192.02,360.78 193.73,360.53 197.54,361.01 C201.36,361.50 205.51,362.69 209.50,366.04 C213.49,369.39 218.16,374.92 221.46,381.12 C224.76,387.31 227.21,395.35 229.32,403.23 C231.42,411.10 232.68,421.15 234.10,428.35 C235.52,435.55 237.23,443.43 237.86,446.44" fill="none" stroke="#ff2020" stroke-width="1.9" />
<path d="M74.20,487.58 L77.35,490.73 L74.20,493.88 L71.05,490.73 Z" fill="#7030a0"/>
<path d="M82.06,472.77 L85.21,475.92 L82.06,479.07 L78.91,475.92 Z" fill="#7030a0"/>
<path d="M97.09,450.64 L100.24,453.79 L97.09,456.94 L93.94,453.79 Z" fill="#7030a0"/>
<path d="M105.29,446.66 L108.44,449.81 L105.29,452.96 L102.14,449.81 Z" fill="#7030a0"/>
<path d="M108.37,454.88 L111.52,458.03 L108.37,461.18 L105.22,458.03 Z" fill="#7030a0"/>
<path d="M110.42,465.23 L113.57,468.38 L110.42,471.53 L107.27,468.38 Z" fill="#7030a0"/>
<path d="M111.78,477.59 L114.93,480.74 L111.78,483.89 L108.63,480.74 Z" fill="#7030a0"/>
<path d="M74.20,487.58 L77.35,490.73 L74.20,493.88 L71.05,490.73 Z" fill="#ff0000"/>
<path d="M82.06,472.77 L85.21,475.92 L82.06,479.07 L78.91,475.92 Z" fill="#ff0000"/>
<path d="M101.53,443.41 L104.68,446.56 L101.53,449.71 L98.38,446.56 Z" fill="#ff0000"/>
<path d="M109.05,441.40 L112.20,444.55 L109.05,447.70 L105.90,444.55 Z" fill="#ff0000"/>
<path d="M109.73,453.37 L112.88,456.52 L109.73,459.67 L106.58,456.52 Z" fill="#ff0000"/>
<path d="M111.10,464.61 L114.25,467.76 L111.10,470.91 L107.95,467.76 Z" fill="#ff0000"/>
<path d="M112.12,477.38 L115.28,480.53 L112.12,483.68 L108.97,480.53 Z" fill="#ff0000"/>
<rect x="81.15" y="465.25" width="6.60" height="6.60" fill="#7030a0" />
<rect x="96.18" y="437.11" width="6.60" height="6.60" fill="#7030a0" />
<rect x="127.27" y="388.07" width="6.60" height="6.60" fill="#7030a0" />
<rect x="160.76" y="354.10" width="6.60" height="6.60" fill="#7030a0" />
<rect x="191.51" y="343.64" width="6.60" height="6.60" fill="#7030a0" />
<rect x="214.74" y="358.12" width="6.60" height="6.60" fill="#7030a0" />
<rect x="231.82" y="388.57" width="6.60" height="6.60" fill="#7030a0" />
<rect x="239.68" y="433.39" width="6.60" height="6.60" fill="#7030a0" />
<rect x="83.34" y="459.52" width="7.00" height="7.00" fill="#ff0000" />
<rect x="98.38" y="431.88" width="7.00" height="7.00" fill="#ff0000" />
<rect x="130.49" y="380.83" width="7.00" height="7.00" fill="#ff0000" />
<rect x="161.24" y="355.91" width="7.00" height="7.00" fill="#ff0000" />
<rect x="187.55" y="352.89" width="7.00" height="7.00" fill="#ff0000" />
<rect x="206.34" y="370.18" width="7.00" height="7.00" fill="#ff0000" />
<rect x="219.67" y="403.34" width="7.00" height="7.00" fill="#ff0000" />
<rect x="229.06" y="444.95" width="7.00" height="7.00" fill="#ff0000" />
<rect x="203.68" y="331.03" width="5.50" height="5.50" fill="none" stroke="#a57ad6" stroke-width="0.9" />
<rect x="229.98" y="345.50" width="5.50" height="5.50" fill="none" stroke="#a57ad6" stroke-width="0.9" />
<rect x="243.99" y="382.99" width="5.50" height="5.50" fill="none" stroke="#a57ad6" stroke-width="0.9" />
<rect x="247.75" y="434.04" width="5.50" height="5.50" fill="none" stroke="#a57ad6" stroke-width="0.9" />
<rect x="163.70" y="349.92" width="5.50" height="5.50" fill="none" stroke="#a57ad6" stroke-width="0.9" />
<rect x="142.18" y="389.12" width="5.50" height="5.50" fill="none" stroke="#ff7070" stroke-width="0.9" />
<rect x="183.86" y="360.38" width="5.50" height="5.50" fill="none" stroke="#ff7070" stroke-width="0.9" />
<rect x="228.96" y="403.49" width="5.50" height="5.50" fill="none" stroke="#ff7070" stroke-width="0.9" />
<rect x="235.79" y="443.69" width="5.50" height="5.50" fill="none" stroke="#ff7070" stroke-width="0.9" />
<rect x="62.50" y="506.25" width="6.00" height="6.00" fill="#ff0000" />
<rect x="63.18" y="504.54" width="6.00" height="6.00" fill="#ff0000" />
<rect x="64.21" y="501.98" width="6.00" height="6.00" fill="#ff0000" />
<rect x="65.23" y="499.42" width="6.00" height="6.00" fill="#ff0000" />
<rect x="66.60" y="496.00" width="6.00" height="6.00" fill="#ff0000" />
<rect x="67.97" y="492.58" width="6.00" height="6.00" fill="#ff0000" />
<rect x="69.33" y="489.17" width="6.00" height="6.00" fill="#ff0000" />
<rect x="71.04" y="484.89" width="6.00" height="6.00" fill="#ff0000" />
<rect x="72.75" y="480.62" width="6.00" height="6.00" fill="#ff0000" />
<path d="M68.53,504.75 L71.03,507.25 L68.53,509.75 L66.03,507.25 Z" fill="#7030a0"/>
<path d="M70.92,498.91 L73.42,501.41 L70.92,503.91 L68.42,501.41 Z" fill="#7030a0"/>
<path d="M73.65,492.24 L76.15,494.74 L73.65,497.24 L71.15,494.74 Z" fill="#7030a0"/>
<path d="M76.72,484.73 L79.22,487.23 L76.72,489.73 L74.22,487.23 Z" fill="#7030a0"/>
<path d="M79.80,477.22 L82.30,479.72 L79.80,482.22 L77.30,479.72 Z" fill="#7030a0"/>
<rect x="346.75" y="307.75" width="204.25" height="203.25" fill="none" stroke="#8a8a8a" stroke-width="1.6" />
<line x1="346.75" y1="307.75" x2="346.75" y2="511.00" stroke="#8a8a8a" stroke-width="1.8" />
<line x1="346.75" y1="511.00" x2="551.00" y2="511.00" stroke="#8a8a8a" stroke-width="1.8" />
<line x1="346.75" y1="465.83" x2="350.75" y2="465.83" stroke="#8a8a8a" stroke-width="1.2" />
<line x1="346.75" y1="420.67" x2="350.75" y2="420.67" stroke="#8a8a8a" stroke-width="1.2" />
<line x1="346.75" y1="375.50" x2="350.75" y2="375.50" stroke="#8a8a8a" stroke-width="1.2" />
<line x1="346.75" y1="330.33" x2="350.75" y2="330.33" stroke="#8a8a8a" stroke-width="1.2" />
<line x1="428.45" y1="511.00" x2="428.45" y2="508.00" stroke="#8a8a8a" stroke-width="1.2" />
<line x1="510.15" y1="511.00" x2="510.15" y2="508.00" stroke="#8a8a8a" stroke-width="1.2" />
<text x="334.00" y="515.30" font-size="12.5" fill="#262626" stroke="#262626" stroke-width="0.45" text-anchor="end">-2.0</text>
<text x="334.00" y="470.13" font-size="12.5" fill="#262626" stroke="#262626" stroke-width="0.45" text-anchor="end">0.0</text>
<text x="334.00" y="424.97" font-size="12.5" fill="#262626" stroke="#262626" stroke-width="0.45" text-anchor="end">2.0</text>
<text x="334.00" y="379.80" font-size="12.5" fill="#262626" stroke="#262626" stroke-width="0.45" text-anchor="end">4.0</text>
<text x="334.00" y="334.63" font-size="12.5" fill="#262626" stroke="#262626" stroke-width="0.45" text-anchor="end">6.0</text>
<text x="346.75" y="534.50" font-size="12.5" fill="#262626" stroke="#262626" stroke-width="0.45" text-anchor="middle">0.1</text>
<text x="428.45" y="534.50" font-size="12.5" fill="#262626" stroke="#262626" stroke-width="0.45" text-anchor="middle">0.3</text>
<text x="510.15" y="534.50" font-size="12.5" fill="#262626" stroke="#262626" stroke-width="0.45" text-anchor="middle">0.5</text>
<text x="307.80" y="420.30" font-size="12.2" fill="#262626" stroke="#262626" stroke-width="0.45" text-anchor="middle" textLength="196.00" lengthAdjust="spacingAndGlyphs" transform="rotate(-90 307.80 420.30)">Crossover current density (mA cm<tspan font-size="7.5" dy="-4.5">-2</tspan><tspan dy="4.5">)</tspan></text>
<text x="422.50" y="552.00" font-size="13.5" fill="#262626" stroke="#262626" stroke-width="0.45" textLength="72.30" lengthAdjust="spacingAndGlyphs">Potential (V)</text>
<path d="M353.50,511.00 C354.08,504.17 355.75,485.17 357.00,470.00 C358.25,454.83 359.67,435.00 361.00,420.00 C362.33,405.00 363.83,389.67 365.00,380.00 C366.17,370.33 366.92,367.08 368.00,362.00 C369.08,356.92 370.17,352.33 371.50,349.50 C372.83,346.67 373.75,346.08 376.00,345.00 C378.25,343.92 379.33,343.60 385.00,343.00 C390.67,342.40 400.83,341.42 410.00,341.40 C419.17,341.38 428.33,342.80 440.00,342.90 C451.67,343.00 461.50,342.15 480.00,342.00 C498.50,341.85 539.17,342.00 551.00,342.00" fill="none" stroke="#8a50c8" stroke-width="1.8" />
<path d="M355.50,511.00 C355.92,505.83 357.00,491.83 358.00,480.00 C359.00,468.17 360.33,450.83 361.50,440.00 C362.67,429.17 363.88,422.07 365.00,415.00 C366.12,407.93 367.20,401.35 368.20,397.60 C369.20,393.85 369.83,393.80 371.00,392.50 C372.17,391.20 372.87,390.55 375.20,389.80 C377.53,389.05 375.87,388.33 385.00,388.00 C394.13,387.67 402.33,387.80 430.00,387.80 C457.67,387.80 530.83,387.97 551.00,388.00" fill="none" stroke="#8a50c8" stroke-width="1.8" stroke-dasharray="4.2 4.8" />
<path d="M356.40,511.00 C356.75,507.50 357.73,497.67 358.50,490.00 C359.27,482.33 360.15,473.33 361.00,465.00 C361.85,456.67 362.77,446.67 363.60,440.00 C364.43,433.33 365.23,428.73 366.00,425.00 C366.77,421.27 367.28,419.85 368.20,417.60 C369.12,415.35 370.32,413.17 371.50,411.50 C372.68,409.83 373.30,408.55 375.30,407.60 C377.30,406.65 380.57,406.18 383.50,405.80 C386.43,405.42 390.17,405.20 392.90,405.30 C395.63,405.40 397.55,406.65 399.90,406.40 C402.25,406.15 405.05,404.08 407.00,403.80 C408.95,403.52 409.85,404.70 411.60,404.70 C413.35,404.70 415.73,403.52 417.50,403.80 C419.27,404.08 420.73,405.37 422.20,406.40 C423.67,407.43 424.93,409.50 426.30,410.00 C427.67,410.50 428.73,409.40 430.40,409.40 C432.07,409.40 434.33,410.10 436.30,410.00 C438.27,409.90 440.05,409.20 442.20,408.80 C444.35,408.40 447.07,407.92 449.20,407.60 C451.33,407.28 452.08,407.05 455.00,406.90 C457.92,406.75 462.78,407.02 466.70,406.70 C470.62,406.38 474.58,405.53 478.50,405.00 C482.42,404.47 486.68,403.90 490.20,403.50 C493.72,403.10 497.05,402.78 499.60,402.60 C502.15,402.42 503.93,402.30 505.50,402.40 C507.07,402.50 507.73,403.47 509.00,403.20 C510.27,402.93 511.73,400.90 513.10,400.80 C514.47,400.70 515.53,402.33 517.20,402.60 C518.87,402.87 521.13,402.78 523.10,402.40 C525.07,402.02 527.43,400.85 529.00,400.30 C530.57,399.75 530.75,399.60 532.50,399.10 C534.25,398.60 537.17,397.53 539.50,397.30 C541.83,397.07 544.58,397.70 546.50,397.70 C548.42,397.70 550.25,397.37 551.00,397.30" fill="none" stroke="#ff0000" stroke-width="1.6" stroke-linejoin="round"/>
<path d="M360.00,511.00 C360.37,503.50 361.20,476.17 362.20,466.00 C363.20,455.83 364.53,454.33 366.00,450.00 C367.47,445.67 369.47,442.67 371.00,440.00 C372.53,437.33 373.37,435.25 375.20,434.00 C377.03,432.75 372.87,432.73 382.00,432.50 C391.13,432.27 415.33,432.85 430.00,432.60 C444.67,432.35 456.67,431.52 470.00,431.00 C483.33,430.48 496.50,430.27 510.00,429.50 C523.50,428.73 544.17,426.92 551.00,426.40" fill="none" stroke="#ff0000" stroke-width="1.6" stroke-dasharray="4.5 3.5" />
<rect x="499.75" y="307.75" width="51.25" height="26.75" fill="#fff" stroke="#8a8a8a" stroke-width="1.3" />
<text x="506.80" y="326.80" font-size="15" fill="#111" stroke="#111" stroke-width="0.15" font-weight="bold" textLength="38.50" lengthAdjust="spacingAndGlyphs">H<tspan font-size="8.5" dy="2.8">2</tspan><tspan dy="-2.8">/N</tspan><tspan font-size="8.5" dy="2.8">2</tspan></text>
<text x="375.20" y="337.00" font-size="13.2" fill="#8a50c8" stroke="#8a50c8" stroke-width="0.45" textLength="110.00" lengthAdjust="spacingAndGlyphs">N211 (250 kPa-abs)</text>
<text x="375.20" y="382.80" font-size="13.2" fill="#8a50c8" stroke="#8a50c8" stroke-width="0.45" textLength="110.50" lengthAdjust="spacingAndGlyphs">N211 (150 kPa-abs)</text>
<text x="375.20" y="401.70" font-size="13.2" fill="#ff0000" stroke="#ff0000" stroke-width="0.45" textLength="125.00" lengthAdjust="spacingAndGlyphs">N211|G (250 kPa-abs)</text>
<text x="375.20" y="429.50" font-size="13.2" fill="#ff0000" stroke="#ff0000" stroke-width="0.45" textLength="125.00" lengthAdjust="spacingAndGlyphs">N211|G (150 kPa-abs)</text>
<rect x="628.50" y="307.75" width="203.75" height="203.00" fill="none" stroke="#8a8a8a" stroke-width="1.6" />
<line x1="628.50" y1="307.75" x2="628.50" y2="510.75" stroke="#8a8a8a" stroke-width="1.8" />
<line x1="628.50" y1="510.75" x2="832.25" y2="510.75" stroke="#8a8a8a" stroke-width="1.8" />
<line x1="628.50" y1="476.92" x2="631.50" y2="476.92" stroke="#8a8a8a" stroke-width="1.2" />
<line x1="628.50" y1="443.08" x2="631.50" y2="443.08" stroke="#8a8a8a" stroke-width="1.2" />
<line x1="628.50" y1="409.25" x2="631.50" y2="409.25" stroke="#8a8a8a" stroke-width="1.2" />
<line x1="628.50" y1="375.42" x2="631.50" y2="375.42" stroke="#8a8a8a" stroke-width="1.2" />
<line x1="628.50" y1="341.58" x2="631.50" y2="341.58" stroke="#8a8a8a" stroke-width="1.2" />
<text x="615.30" y="515.35" font-size="13" fill="#262626" stroke="#262626" stroke-width="0.45" text-anchor="end">0</text>
<text x="615.30" y="481.52" font-size="13" fill="#262626" stroke="#262626" stroke-width="0.45" text-anchor="end">1</text>
<text x="615.30" y="447.68" font-size="13" fill="#262626" stroke="#262626" stroke-width="0.45" text-anchor="end">2</text>
<text x="615.30" y="413.85" font-size="13" fill="#262626" stroke="#262626" stroke-width="0.45" text-anchor="end">3</text>
<text x="615.30" y="380.02" font-size="13" fill="#262626" stroke="#262626" stroke-width="0.45" text-anchor="end">4</text>
<text x="615.30" y="346.18" font-size="13" fill="#262626" stroke="#262626" stroke-width="0.45" text-anchor="end">5</text>
<text x="615.30" y="312.35" font-size="13" fill="#262626" stroke="#262626" stroke-width="0.45" text-anchor="end">6</text>
<rect x="653.25" y="393.35" width="23.75" height="117.40" fill="#7030a0" />
<text x="669.73" y="509.25" font-size="12.5" fill="#fff" stroke="#fff" stroke-width="0.15" textLength="30.00" lengthAdjust="spacingAndGlyphs" transform="rotate(-90 669.73 509.25)">N211</text>
<rect x="682.25" y="460.68" width="23.50" height="50.07" fill="#ff0000" />
<text x="698.60" y="509.25" font-size="12.5" fill="#fff" stroke="#fff" stroke-width="0.15" textLength="46.00" lengthAdjust="spacingAndGlyphs" transform="rotate(-90 698.60 509.25)">N211|G</text>
<rect x="754.50" y="325.68" width="24.00" height="185.07" fill="#7030a0" />
<text x="771.10" y="509.25" font-size="12.5" fill="#fff" stroke="#fff" stroke-width="0.15" textLength="30.00" lengthAdjust="spacingAndGlyphs" transform="rotate(-90 771.10 509.25)">N211</text>
<rect x="784.75" y="422.78" width="23.75" height="87.97" fill="#ff0000" />
<text x="801.23" y="509.25" font-size="12.5" fill="#fff" stroke="#fff" stroke-width="0.15" textLength="46.00" lengthAdjust="spacingAndGlyphs" transform="rotate(-90 801.23 509.25)">N211|G</text>
<line x1="628.50" y1="510.75" x2="832.25" y2="510.75" stroke="#8a8a8a" stroke-width="1.8" />
<line x1="683.50" y1="393.50" x2="683.50" y2="448.00" stroke="#555" stroke-width="0.8" stroke-dasharray="1 1.5"/>
<path d="M680.5,447 L686.5,447 L683.5,455 Z" fill="#111"/>
<line x1="786.00" y1="326.00" x2="786.00" y2="411.00" stroke="#555" stroke-width="0.8" stroke-dasharray="1 1.5"/>
<path d="M783,410 L789,410 L786,418 Z" fill="#111"/>
<text x="686.70" y="427.00" font-size="14" fill="#262626" stroke="#262626" stroke-width="0.45" textLength="38.00" lengthAdjust="spacingAndGlyphs">~57%</text>
<text x="791.20" y="389.00" font-size="14" fill="#262626" stroke="#262626" stroke-width="0.45" textLength="34.00" lengthAdjust="spacingAndGlyphs">~53%</text>
<text x="679.40" y="534.50" font-size="13" fill="#262626" stroke="#262626" stroke-width="0.45" text-anchor="middle" textLength="68.00" lengthAdjust="spacingAndGlyphs">150 kPa-abs</text>
<text x="781.50" y="534.50" font-size="13" fill="#262626" stroke="#262626" stroke-width="0.45" text-anchor="middle" textLength="69.00" lengthAdjust="spacingAndGlyphs">250 kPa-abs</text>
<text x="589.80" y="424.60" font-size="12" fill="#262626" stroke="#262626" stroke-width="0.45" text-anchor="middle" textLength="220.00" lengthAdjust="spacingAndGlyphs" transform="rotate(-90 589.80 424.60)">H<tspan font-size="8" dy="2.5">2</tspan><tspan dy="-2.5"> crossover current density (mA cm</tspan><tspan font-size="7.5" dy="-4.5">-2</tspan><tspan dy="4.5">)</tspan></text></svg>
</body></html>
